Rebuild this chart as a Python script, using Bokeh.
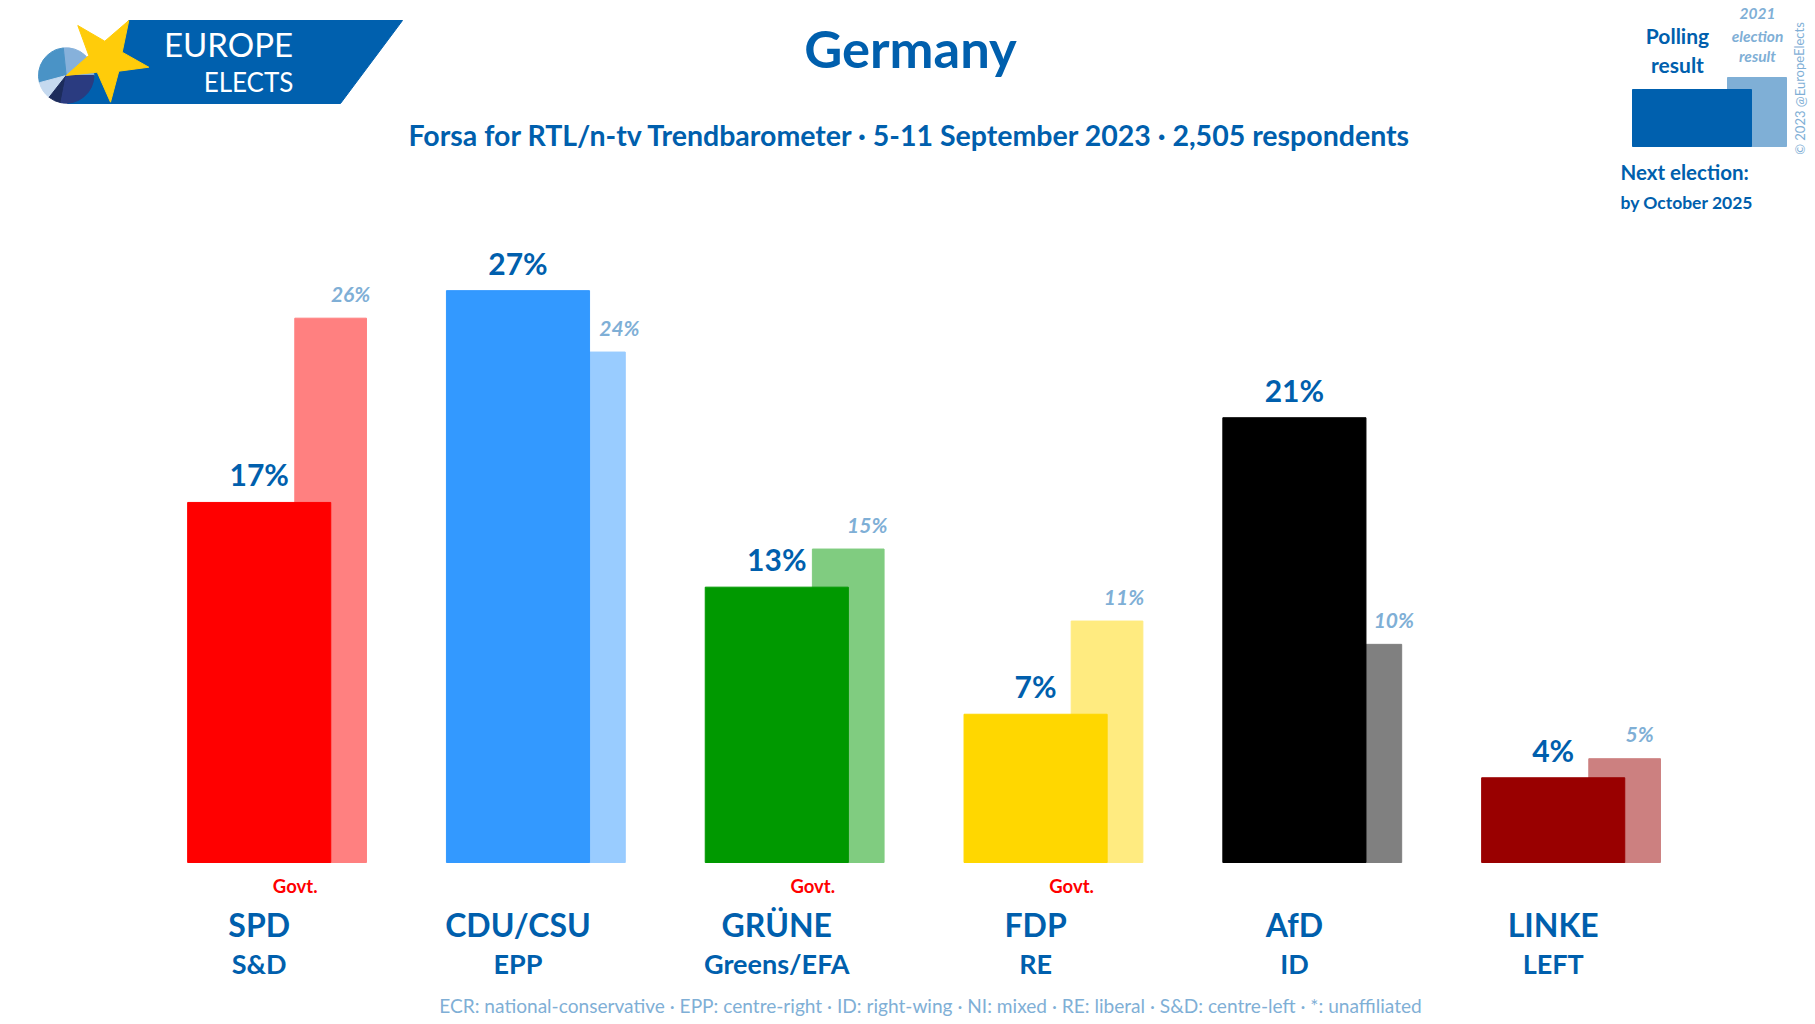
from bokeh.plotting import figure
from bokeh.models import Range1d, ColumnDataSource
from bokeh.core.properties import value
from bokeh.embed import file_html
from bokeh.resources import INLINE

parties = ["SPD", "CDU/CSU", "GRÜNE", "FDP", "AfD", "LINKE"]
groups = ["S&D", "EPP", "Greens/EFA", "RE", "ID", "LEFT"]
poll = [17, 27, 13, 7, 21, 4]
election = [25.7, 24.1, 14.8, 11.4, 10.3, 4.9]
poll_labels = ["17%", "27%", "13%", "7%", "21%", "4%"]
election_labels = ["26%", "24%", "15%", "11%", "10%", "5%"]
govt = ["Govt.", "", "Govt.", "Govt.", "", ""]
poll_colors = ["#FF0000", "#3399FF", "#009900", "#FFD700", "#000000", "#990000"]
election_colors = ["#FF8080", "#99CCFF", "#80CC80", "#FFEB80", "#808080", "#CC8080"]

title = "Germany"
subtitle = "Forsa for RTL/n-tv Trendbarometer · 5-11 September 2023 · 2,505 respondents"
footer = "ECR: national-conservative · EPP: centre-right · ID: right-wing · NI: mixed · RE: liberal · S&D: centre-left · *: unaffiliated"

FONT = value("Lato")
BLUE = "#005FAD"
LIGHT = "#7FAFD6"
W, H = 1815, 1024
STEP = 258.8
X0 = 258.7
BASE = 862
PPP = 21.18

p = figure(width=W, height=H, output_backend="svg", toolbar_location=None,
           x_range=Range1d(-X0 / STEP, (W - X0) / STEP),
           y_range=Range1d(-(H - BASE) / PPP, BASE / PPP),
           min_border=0, outline_line_color=None, background_fill_color="white")
p.axis.visible = False
p.grid.visible = False
p.extra_x_ranges = {"page": Range1d(0, W)}
p.extra_y_ranges = {"page": Range1d(H, 0)}
PG = dict(x_range_name="page", y_range_name="page")

xs = list(range(len(parties)))
src = ColumnDataSource(dict(
    x=xs, xe=[i + 0.276 for i in xs], xg=[i + 0.139 for i in xs],
    poll=poll, election=election, pl=poll_labels, el=election_labels,
    pc=poll_colors, ec=election_colors, party=parties, group=groups, govt=govt,
    zero=[0] * len(xs),
    eoff=[20, 30, 19, 17, 28, 15],
))

p.vbar(x="xe", top="election", bottom=0, width=0.277, color="ec", source=src)
p.vbar(x="x", top="poll", bottom=0, width=0.553, color="pc", source=src)

p.text(x="x", y="poll", text="pl", source=src, text_align="center", text_baseline="middle",
       y_offset=-28, text_font=FONT, text_font_style="bold", text_font_size="30px", text_color=BLUE)
p.text(x="xe", y="election", text="el", source=src, text_align="center", text_baseline="middle",
       x_offset="eoff", y_offset=-25, text_font=FONT, text_font_style="bold italic",
       text_font_size="21px", text_color=LIGHT)
p.text(x="xg", y="zero", text="govt", source=src, text_align="center", text_baseline="middle",
       y_offset=23, text_font=FONT, text_font_style="bold", text_font_size="18.5px", text_color="#FF0000")
p.text(x="x", y="zero", text="party", source=src, text_align="center", text_baseline="middle",
       y_offset=62, text_font=FONT, text_font_style="bold", text_font_size="32px", text_color=BLUE)
p.text(x="x", y="zero", text="group", source=src, text_align="center", text_baseline="middle",
       y_offset=101, text_font=FONT, text_font_style="bold", text_font_size="27px", text_color=BLUE)


def put(x, y, s, size, color=BLUE, style="bold", align="center", angle=0):
    p.text(x=[x], y=[y], text=[s], text_align=align, text_baseline="middle", angle=angle,
           text_font=FONT, text_font_style=style, text_font_size=f"{size}px", text_color=color, **PG)


put(910, 47, title, 52.5)
put(910, 134, subtitle, 28.5)
put(930, 1005, footer, 19.1, LIGHT, "normal")

# legend key
p.quad(left=1727, right=1786, top=77, bottom=146, color=LIGHT, **PG)
p.quad(left=1632, right=1751, top=89, bottom=146, color="#0060AE", **PG)
put(1677, 35, "Polling", 21)
put(1677, 64, "result", 21)
put(1757, 13, "2021", 15.5, LIGHT, "bold italic")
put(1757, 35, "election", 15.5, LIGHT, "bold italic")
put(1757, 55, "result", 15.5, LIGHT, "bold italic")
put(1620, 171, "Next election:", 20.5, align="left")
put(1620, 202, "by October 2025", 17.5, align="left")
put(1799, 88, "© 2023 @EuropeElects", 13, LIGHT, "normal", angle=1.5708)

# logo
p.patch(x=[128, 402, 340, 67], y=[20, 20, 103, 103], color="#0060AE", **PG)
pie_colors = ["#86B1DB", "#4A93C6", "#C5D9EF", "#1C2C5C", "#2A3B80"]
pie_edges = [0, 96, 195, 232, 259, 360]
for i, c in enumerate(pie_colors):
    p.wedge(x=[65.7], y=[75], radius=27.7, radius_units="screen",
            start_angle=pie_edges[i], end_angle=pie_edges[i + 1], start_angle_units="deg",
            end_angle_units="deg", color=c, **PG)
p.patch(x=[128.3, 121.7, 148.3, 118.3, 110, 96.7, 65.7, 88.3, 77.3, 104.3],
        y=[20, 51.7, 66.7, 70.7, 101.7, 71.7, 75, 55, 25, 40.7], color="#FFCC0A", **PG)
put(228, 43, "EUROPE", 33, "white", "normal")
put(248, 81, "ELECTS", 26, "white", "normal")

open("out.html", "w").write(file_html(p, INLINE))
